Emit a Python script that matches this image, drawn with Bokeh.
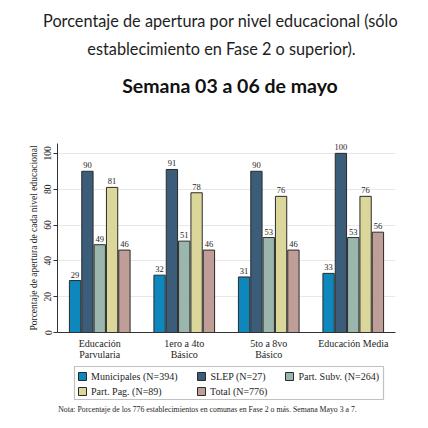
from bokeh.plotting import figure
from bokeh.layouts import column
from bokeh.models import (FactorRange, Range1d, Label, Legend, LegendItem, ColumnDataSource,
                          FixedTicker, BoxAnnotation)
from bokeh.transform import dodge
from bokeh.embed import file_html
from bokeh.resources import INLINE

niveles = ["Educación\nParvularia", "1ero a 4to\nBásico", "5to a 8vo\nBásico", "Educación Media"]
municipales = [29, 32, 31, 33]
slep = [90, 91, 90, 100]
part_subv = [49, 51, 53, 53]
part_pag = [81, 78, 76, 76]
total = [46, 46, 46, 56]
series_keys = ["municipales", "slep", "part_subv", "part_pag", "total"]
series_names = ["Municipales (N=394)", "SLEP (N=27)", "Part. Subv. (N=264)", "Part. Pag. (N=89)", "Total (N=776)"]
colors = ["#0e87bd", "#3b5d79", "#9ab6ad", "#dbd79b", "#c09e98"]
y_ticks = [0, 20, 40, 60, 80, 100]

title_1 = "Porcentaje de apertura por nivel educacional (sólo"
title_2 = "establecimiento en Fase 2 o superior)."
title_3 = "Semana 03 a 06 de mayo"
y_label = "Porcentaje de apertura de cada nivel educacional"
nota = "Nota: Porcentaje de los 776 establecimientos en comunas en Fase 2 o más. Semana Mayo 3 a 7."

SERIF = "Liberation Serif"
INK = "#1e1e1e"

# ---------------- header (title block) ----------------
head = figure(width=428, height=130, output_backend="svg", toolbar_location=None,
              x_axis_location=None, y_axis_location=None, min_border=0, frame_align=False,
              x_range=Range1d(0, 1), y_range=Range1d(0, 1))
head.outline_line_color = None
head.grid.visible = False
head.add_layout(Label(x=220, y=110, x_units="screen", y_units="screen", text=title_1,
                      text_align="center", text_baseline="middle", text_font="Lato",
                      text_font_size="16.3px", text_color=INK))
head.add_layout(Label(x=221, y=82, x_units="screen", y_units="screen", text=title_2,
                      text_align="center", text_baseline="middle", text_font="Lato",
                      text_font_size="16.3px", text_color=INK))
head.add_layout(Label(x=229.5, y=45, x_units="screen", y_units="screen", text=title_3,
                      text_align="center", text_baseline="middle", text_font="Lato",
                      text_font_size="19.5px", text_font_style="bold", text_color="#111111"))

# ---------------- main chart ----------------
data = dict(nivel=niveles, municipales=municipales, slep=slep, part_subv=part_subv,
            part_pag=part_pag, total=total)
for k in series_keys:
    data[k + "_lbl"] = [str(v) for v in data[k]]
src = ColumnDataSource(data)

p = figure(width=428, height=232, x_range=FactorRange(*niveles), y_range=Range1d(0, 105.5),
           output_backend="svg", toolbar_location=None, frame_align=False,
           min_border_left=57, min_border_right=33, min_border_top=13, min_border_bottom=26)
p.outline_line_color = None
p.background_fill_color = "white"
p.xgrid.visible = False
p.ygrid.grid_line_color = "#e8e8e8"
p.ygrid.grid_line_width = 1

offsets = [-0.292, -0.146, 0.0, 0.146, 0.292]
for i, k in enumerate(series_keys):
    xd = dodge("nivel", offsets[i], range=p.x_range)
    p.vbar(x=xd, top=k, width=0.134, source=src, fill_color=colors[i],
           line_color="#2a2a2a", line_width=1)
    p.text(x=xd, y=k, text=k + "_lbl", source=src, text_align="center",
           text_baseline="bottom", y_offset=-3, text_font_size="8.5px",
           text_font={"value": SERIF}, text_color=INK)

p.yaxis.ticker = FixedTicker(ticks=y_ticks)
p.yaxis.major_label_orientation = "vertical"
p.yaxis.axis_label = y_label
p.yaxis.axis_label_text_font = SERIF
p.yaxis.axis_label_text_font_style = "normal"
p.yaxis.axis_label_text_font_size = "9.5px"
p.yaxis.axis_label_text_color = INK
p.yaxis.axis_label_standoff = 3
p.yaxis.major_label_text_font = SERIF
p.yaxis.major_label_text_font_size = "9.5px"
p.yaxis.major_label_text_color = INK
p.yaxis.major_label_standoff = 2
p.yaxis.major_tick_out = 4
p.yaxis.major_tick_in = 0
p.yaxis.minor_tick_out = 0
p.yaxis.minor_tick_in = 0
p.yaxis.axis_line_color = "#333333"
p.yaxis.major_tick_line_color = "#333333"

p.xaxis.major_label_text_font = SERIF
p.xaxis.major_label_text_font_size = "10px"
p.xaxis.major_label_text_line_height = 1.0
p.xaxis.major_label_text_color = INK
p.xaxis.major_label_standoff = 5
p.xaxis.major_tick_out = 0
p.xaxis.major_tick_in = 0
p.xaxis.axis_line_color = "#333333"

# ---------------- legend + note ----------------
foot = figure(width=428, height=66, output_backend="svg", toolbar_location=None,
              x_axis_location=None, y_axis_location=None, min_border=0, frame_align=False,
              x_range=Range1d(0, 1), y_range=Range1d(0, 1))
foot.outline_line_color = None
foot.grid.visible = False
foot.add_layout(BoxAnnotation(left=74, right=383, top=62, bottom=29,
                              left_units="screen", right_units="screen",
                              top_units="screen", bottom_units="screen",
                              fill_alpha=0, line_color="#333333", line_width=1.2))

nan = float("nan")
key_renderers = []
for i in range(len(series_keys)):
    key_renderers.append(foot.vbar(x=[nan], top=[nan], width=0.1, fill_color=colors[i],
                                   line_color="#2a2a2a", line_width=1))

common = dict(orientation="horizontal", label_text_font=SERIF, label_text_font_size="10px",
              label_text_color=INK, glyph_width=10, glyph_height=10, label_standoff=4,
              label_height=12, padding=0, spacing=19, margin=0,
              border_line_color=None, background_fill_alpha=0)
row1 = Legend(items=[LegendItem(label=series_names[j], renderers=[key_renderers[j]]) for j in (0, 1, 2)],
              location=(77, 46), label_width=20, **common)
row2 = Legend(items=[LegendItem(label=series_names[j], renderers=[key_renderers[j]]) for j in (3, 4)],
              location=(77, 31), label_width=86, **common)
foot.add_layout(row1, "center")
foot.add_layout(row2, "center")
foot.add_layout(Label(x=207, y=19, x_units="screen", y_units="screen", text=nota,
                      text_align="center", text_baseline="middle", text_font=SERIF,
                      text_font_size="7.8px", text_color=INK))

layout = column(head, p, foot, spacing=0)
open("out.html", "w").write(file_html(layout, INLINE))
